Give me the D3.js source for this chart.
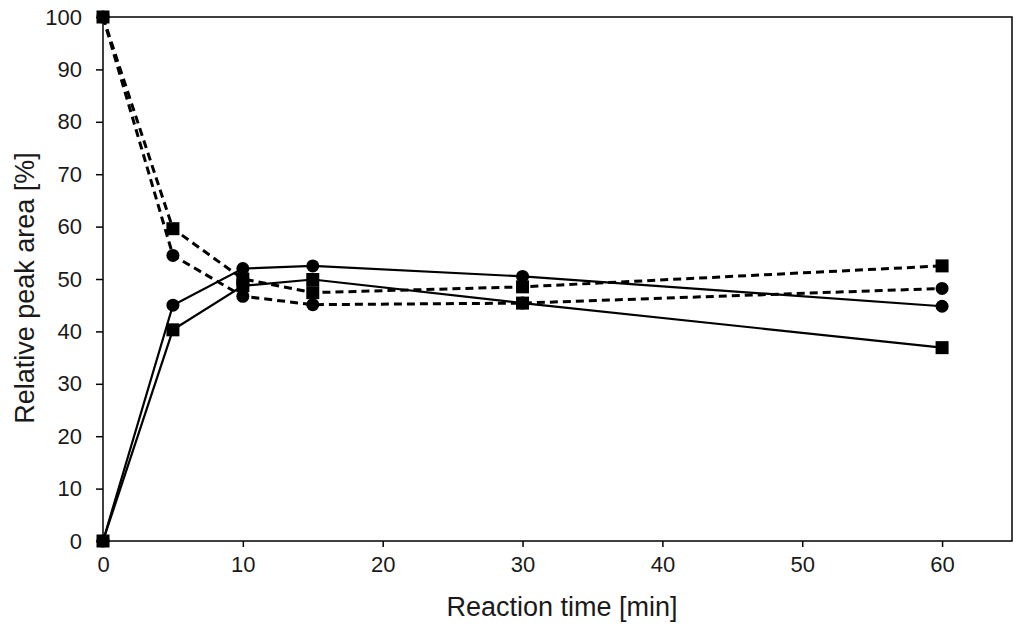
<!DOCTYPE html>
<html lang="en">
<head>
    <meta charset="utf-8">
    <title>Relative peak area</title>
    <script type="text/javascript" src="https://cdn.jsdelivr.net/npm/d3@7"></script>
    <style>
        body { margin: 0; background: #fff; }
        svg { display: block; font-family: 'Liberation Sans', Arial, sans-serif; }
    </style>
</head>
<body>
    <svg width="1024" height="628"></svg>
    <script type="text/javascript">
        // data
        var times = [0, 5, 10, 15, 30, 60];
        var circleSolid = [0, 45.0, 52.0, 52.5, 50.5, 44.8];
        var squareSolid = [0, 40.3, 48.7, 49.9, 45.4, 36.9];
        var circleDashed = [100, 54.5, 46.7, 45.1, 45.4, 48.2];
        var squareDashed = [100, 59.6, 50.0, 47.4, 48.5, 52.5];
        var xTicks = [0, 10, 20, 30, 40, 50, 60];
        var yTicks = [0, 10, 20, 30, 40, 50, 60, 70, 80, 90, 100];

        var series = [
            { values: squareDashed, shape: "square", dash: "8,5", width: 3 },
            { values: circleDashed, shape: "circle", dash: "8,5", width: 3 },
            { values: squareSolid, shape: "square", dash: null, width: 2.2 },
            { values: circleSolid, shape: "circle", dash: null, width: 2.2 }
        ];

        var plotLeft = 103, plotRight = 1012, plotTop = 17, plotBottom = 541;
        var svg = d3.select("svg");
        var x = d3.scaleLinear().domain([0, 65]).range([plotLeft, plotRight]);
        var y = d3.scaleLinear().domain([0, 100]).range([plotBottom, plotTop]);

        // frame
        svg.append("rect")
            .attr("x", plotLeft).attr("y", plotTop)
            .attr("width", plotRight - plotLeft).attr("height", plotBottom - plotTop)
            .attr("fill", "none").attr("stroke", "#000").attr("stroke-width", 1.5);

        // axes
        var xAxis = svg.append("g")
            .attr("transform", "translate(0," + plotBottom + ")")
            .call(d3.axisBottom(x).tickValues(xTicks).tickSize(6).tickPadding(9));
        var yAxis = svg.append("g")
            .attr("transform", "translate(" + plotLeft + ",0)")
            .call(d3.axisLeft(y).tickValues(yTicks).tickSize(7).tickPadding(14));
        [xAxis, yAxis].forEach(function (a) {
            a.select(".domain").remove();
            a.selectAll("line").attr("stroke", "#000").attr("stroke-width", 1.5);
            a.selectAll("text").attr("fill", "#1a1a1a").style("font-size", "22px")
                .style("font-family", "'Liberation Sans', Arial, sans-serif");
        });

        // lines
        var line = d3.line()
            .x(function (d, i) { return x(times[i]); })
            .y(function (d) { return y(d); });

        series.forEach(function (s) {
            svg.append("path")
                .datum(s.values)
                .attr("d", line)
                .attr("fill", "none")
                .attr("stroke", "#000")
                .attr("stroke-width", s.width)
                .attr("stroke-dasharray", s.dash);
        });

        // markers
        series.forEach(function (s) {
            var g = svg.append("g");
            if (s.shape == "circle") {
                g.selectAll("circle").data(s.values).enter()
                    .append("circle")
                    .attr("cx", function (d, i) { return x(times[i]); })
                    .attr("cy", function (d) { return y(d); })
                    .attr("r", 6.5)
                    .attr("fill", "#000");
            } else {
                g.selectAll("rect").data(s.values).enter()
                    .append("rect")
                    .attr("x", function (d, i) { return x(times[i]) - 6.5; })
                    .attr("y", function (d) { return y(d) - 6.5; })
                    .attr("width", 13).attr("height", 13)
                    .attr("fill", "#000");
            }
        });

        // titles
        svg.append("text")
            .attr("x", 562).attr("y", 616)
            .attr("text-anchor", "middle")
            .attr("fill", "#1a1a1a")
            .style("font-size", "27px")
            .text("Reaction time [min]");
        svg.append("text")
            .attr("transform", "translate(34,288) rotate(-90)")
            .attr("text-anchor", "middle")
            .attr("fill", "#1a1a1a")
            .style("font-size", "27px")
            .text("Relative peak area [%]");
    </script>
</body>
</html>
